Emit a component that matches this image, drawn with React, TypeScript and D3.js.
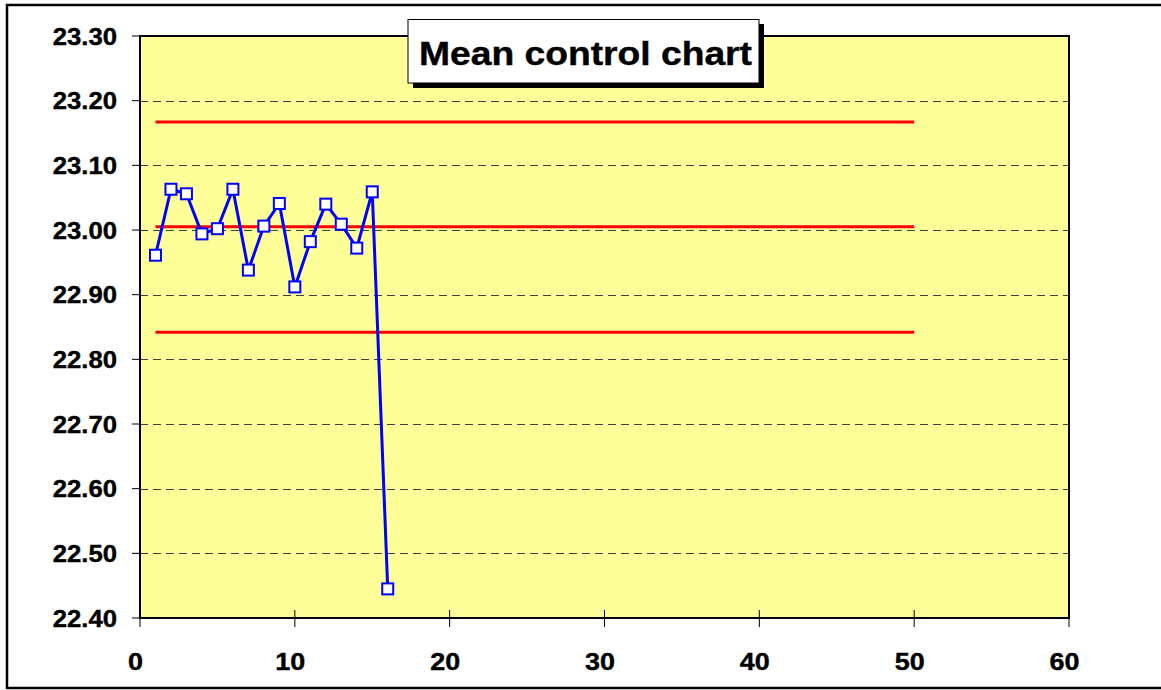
import React from "react";
import * as d3 from "d3";

const samples = [1, 2, 3, 4, 5, 6, 7, 8, 9, 10, 11, 12, 13, 14, 15, 16];
const means = [22.961, 23.063, 23.056, 22.994, 23.002, 23.063, 22.938, 23.006, 23.041, 22.912, 22.982, 23.04, 23.009, 22.972, 23.059, 22.445];
const controlLimits = [23.167, 23.005, 22.842];
const limitRange = [1, 50];
const yTicks = [22.4, 22.5, 22.6, 22.7, 22.8, 22.9, 23.0, 23.1, 23.2, 23.3];
const xTicks = [0, 10, 20, 30, 40, 50, 60];
const title = "Mean control chart";

const W = 1161;
const H = 690;
const plot = { left: 140, right: 1069, top: 36, bottom: 618 };
const FONT = "Arimo, 'Liberation Sans', Arial, Helvetica, sans-serif";

export default function App() {
  const x = d3.scaleLinear().domain([0, 60]).range([plot.left, plot.right]);
  const y = d3.scaleLinear().domain([22.4, 23.3]).range([plot.bottom, plot.top]);
  const line = d3
    .line<number>()
    .x((_, i) => x(samples[i]))
    .y((d) => y(d));

  return (
    <div style={{ position: "fixed", left: 0, top: 0 }}>
      <svg width={W} height={H} style={{ display: "block" }}>
        <rect x={0} y={0} width={W} height={H} fill="#ffffff" />
        <rect x={7} y={5} width={W + 10} height={683} fill="none" stroke="#000" strokeWidth={2.5} />
        <rect
          x={plot.left}
          y={plot.top}
          width={plot.right - plot.left}
          height={plot.bottom - plot.top}
          fill="#FFFF99"
        />
        {yTicks
          .filter((t) => t > 22.41 && t < 23.29)
          .map((t) => (
            <line
              key={"g" + t}
              x1={plot.left}
              x2={plot.right}
              y1={Math.round(y(t)) + 0.5}
              y2={Math.round(y(t)) + 0.5}
              stroke="#404040"
              strokeWidth={1}
              strokeDasharray="8,5"
            />
          ))}
        <rect
          x={plot.left}
          y={plot.top}
          width={plot.right - plot.left}
          height={plot.bottom - plot.top}
          fill="none"
          stroke="#000"
          strokeWidth={2}
        />
        {yTicks.map((t) => (
          <g key={"y" + t}>
            <line x1={132} x2={plot.left} y1={y(t)} y2={y(t)} stroke="#000" strokeWidth={1} />
            <g transform={`translate(117,${y(t) + 8.7}) scale(1.05,1)`}>
              <text
                textAnchor="end"
                fontFamily={FONT}
                fontWeight="bold"
                fontSize={24.5}
                fill="#000"
                stroke="#000"
                strokeWidth={0.4}
              >
                {t.toFixed(2)}
              </text>
            </g>
          </g>
        ))}
        {xTicks.map((t) => (
          <g key={"x" + t}>
            <line x1={x(t)} x2={x(t)} y1={plot.bottom - 8} y2={plot.bottom + 9} stroke="#000" strokeWidth={1} />
            <g transform={`translate(${x(t) - 4.5},669.5) scale(1.1,1)`}>
              <text
                textAnchor="middle"
                fontFamily={FONT}
                fontWeight="bold"
                fontSize={24.5}
                fill="#000"
                stroke="#000"
                strokeWidth={0.4}
              >
                {t}
              </text>
            </g>
          </g>
        ))}
        {controlLimits.map((v, i) => (
          <line
            key={"c" + i}
            x1={x(limitRange[0])}
            x2={x(limitRange[1])}
            y1={y(v)}
            y2={y(v)}
            stroke="#FF0000"
            strokeWidth={3}
          />
        ))}
        <path d={line(means) || ""} fill="none" stroke="#0000FF" strokeWidth={3} strokeLinejoin="round" />
        {means.map((v, i) => (
          <rect
            key={"m" + i}
            x={x(samples[i]) - 5.5}
            y={y(v) - 5.5}
            width={11}
            height={11}
            fill="#ffffff"
            stroke="#0000FF"
            strokeWidth={2}
          />
        ))}
        <rect x={413} y={24} width={351} height={64} fill="#000" />
        <rect x={408} y={19.5} width={351} height={63.5} fill="#fff" stroke="#000" strokeWidth={1} />
        <text
          x={419}
          y={65}
          fontFamily={FONT}
          fontWeight="bold"
          fontSize={32.5}
          textLength={333}
          lengthAdjust="spacingAndGlyphs"
          fill="#000"
          stroke="#000"
          strokeWidth={0.4}
        >
          {title}
        </text>
      </svg>
    </div>
  );
}
